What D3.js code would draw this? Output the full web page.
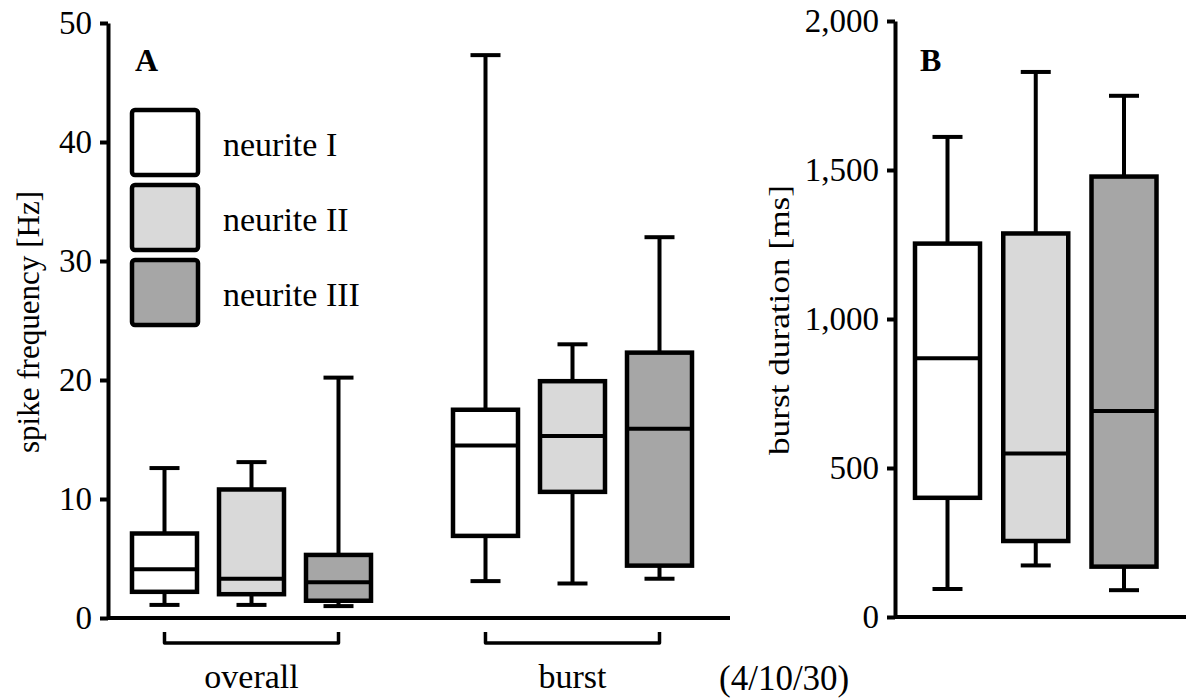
<!DOCTYPE html>
<html>
<head>
<meta charset="utf-8">
<script src="https://cdn.jsdelivr.net/npm/d3@7"></script>
<style>
  body { margin: 0; background: #fff; }
  text { font-family: "Liberation Serif", "Times New Roman", serif; fill: #000; }
</style>
</head>
<body>
<script>
// categories
const groups = ["overall", "burst"];
const neurites = ["neurite I", "neurite II", "neurite III"];
const fills = ["#ffffff", "#d9d9d9", "#a6a6a6"];

// box stats: [whisker low, q1, median, q3, whisker high]
const freqOverall = [
  [1.1, 2.2, 4.1, 7.1, 12.6],
  [1.1, 2.0, 3.3, 10.8, 13.1],
  [1.0, 1.45, 3.0, 5.3, 20.2]
];
const freqBurst = [
  [3.1, 6.9, 14.5, 17.5, 47.3],
  [2.9, 10.6, 15.3, 19.9, 23.0],
  [3.3, 4.4, 15.9, 22.3, 32.0]
];
const durBurst = [
  [94, 400, 868, 1253, 1611],
  [173, 255, 549, 1287, 1829],
  [90, 169, 691, 1478, 1749]
];

// tick labels
const freqTicks = [0, 10, 20, 30, 40, 50];
const durTicks = [0, 500, 1000, 1500, 2000];
const nLabel = "(4/10/30)";

const W = 1186, H = 698;
const svg = d3.select("body").append("svg")
  .attr("width", W).attr("height", H);

const yA = d3.scaleLinear().domain([0, 50]).range([618, 23]);
const yB = d3.scaleLinear().domain([0, 2000]).range([617, 21]);

const xGroup = d3.scalePoint().domain(groups).range([251.5, 572.5]);
const xInner = d3.scalePoint().domain(neurites).range([-87, 87]);
const xB = d3.scalePoint().domain(neurites).range([947.5, 1124]);

const boxW = 65, capW = 30;

function drawBox(g, cx, s, y, fill) {
  g.append("line")
    .attr("x1", cx).attr("x2", cx)
    .attr("y1", y(s[0])).attr("y2", y(s[4]))
    .attr("stroke", "#000").attr("stroke-width", 4);
  [s[0], s[4]].forEach(v => {
    g.append("line")
      .attr("x1", cx - capW / 2).attr("x2", cx + capW / 2)
      .attr("y1", y(v)).attr("y2", y(v))
      .attr("stroke", "#000").attr("stroke-width", 4);
  });
  g.append("rect")
    .attr("x", cx - boxW / 2).attr("width", boxW)
    .attr("y", y(s[3])).attr("height", y(s[1]) - y(s[3]))
    .attr("fill", fill).attr("stroke", "#000").attr("stroke-width", 4.5);
  g.append("line")
    .attr("x1", cx - boxW / 2).attr("x2", cx + boxW / 2)
    .attr("y1", y(s[2])).attr("y2", y(s[2]))
    .attr("stroke", "#000").attr("stroke-width", 4);
}

// ---- panel A ----
const gA = svg.append("g");
const freqData = { overall: freqOverall, burst: freqBurst };
groups.forEach(grp => {
  neurites.forEach((n, i) => {
    drawBox(gA, xGroup(grp) + xInner(n), freqData[grp][i], yA, fills[i]);
  });
  // bracket under group
  const x1 = xGroup(grp) + xInner(neurites[0]);
  const x2 = xGroup(grp) + xInner(neurites[2]);
  gA.append("path")
    .attr("d", `M${x1},632 V643 H${x2} V632`)
    .attr("fill", "none").attr("stroke", "#000").attr("stroke-width", 3.5)
    .attr("stroke-linejoin", "round");
  gA.append("text")
    .attr("x", xGroup(grp)).attr("y", 688)
    .attr("text-anchor", "middle").attr("font-size", 34)
    .text(grp);
});

const axisA = gA.append("g")
  .attr("transform", "translate(108,0)")
  .call(d3.axisLeft(yA).tickValues(freqTicks).tickSize(8).tickPadding(8).tickSizeOuter(0));
gA.append("line")
  .attr("x1", 108).attr("x2", 730)
  .attr("y1", yA(0)).attr("y2", yA(0))
  .attr("stroke", "#000").attr("stroke-width", 4);

gA.append("text")
  .attr("transform", "translate(39,322) rotate(-90)")
  .attr("text-anchor", "middle").attr("font-size", 32)
  .attr("textLength", 262).attr("lengthAdjust", "spacingAndGlyphs")
  .text("spike frequency [Hz]");

gA.append("text")
  .attr("x", 135).attr("y", 71)
  .attr("font-size", 32).attr("font-weight", "bold")
  .text("A");

// legend
const legY = d3.scalePoint().domain(neurites).range([110, 260]);
neurites.forEach((n, i) => {
  gA.append("rect")
    .attr("x", 132).attr("y", legY(n))
    .attr("width", 66).attr("height", 65).attr("rx", 3)
    .attr("fill", fills[i]).attr("stroke", "#000").attr("stroke-width", 4.5);
  gA.append("text")
    .attr("x", 223).attr("y", legY(n) + 46)
    .attr("font-size", 34)
    .text(n);
});

// ---- panel B ----
const gB = svg.append("g");
neurites.forEach((n, i) => drawBox(gB, xB(n), durBurst[i], yB, fills[i]));

const axisB = gB.append("g")
  .attr("transform", "translate(895,0)")
  .call(d3.axisLeft(yB).tickValues(durTicks).tickFormat(d3.format(",")).tickSize(8).tickPadding(8).tickSizeOuter(0));
gB.append("line")
  .attr("x1", 895).attr("x2", W)
  .attr("y1", yB(0)).attr("y2", yB(0))
  .attr("stroke", "#000").attr("stroke-width", 4);

gB.append("text")
  .attr("transform", "translate(789,320) rotate(-90)")
  .attr("text-anchor", "middle").attr("font-size", 30)
  .attr("textLength", 270).attr("lengthAdjust", "spacingAndGlyphs")
  .text("burst duration [ms]");

gB.append("text")
  .attr("x", 920).attr("y", 71)
  .attr("font-size", 32).attr("font-weight", "bold")
  .text("B");

svg.append("text")
  .attr("x", 719).attr("y", 690)
  .attr("font-size", 35)
  .text(nLabel);

// axis styling
[axisA, axisB].forEach(ax => {
  ax.select(".domain").attr("stroke-width", 4);
  ax.selectAll(".tick line").attr("stroke-width", 4);
  ax.selectAll(".tick text")
    .attr("font-family", "Liberation Serif, serif")
    .attr("font-size", 33).attr("fill", "#000");
});
</script>
</body>
</html>
